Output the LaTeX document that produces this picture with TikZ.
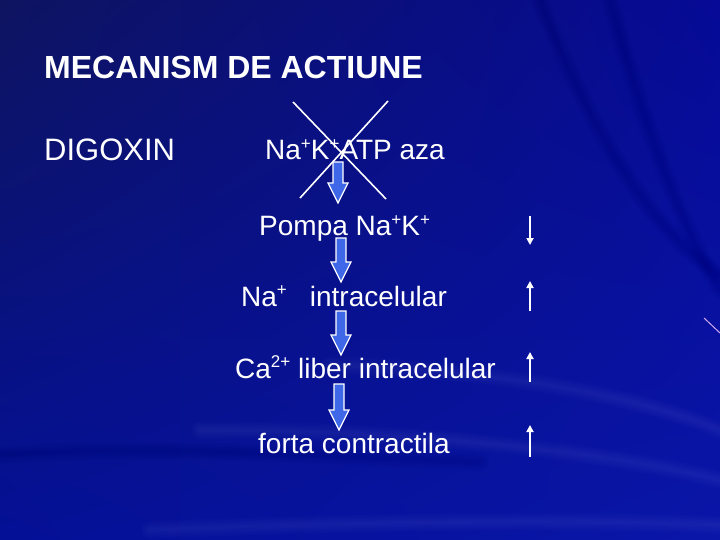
\documentclass[tikz,border=0pt]{standalone}
\usepackage{fontspec}
\setmainfont{Liberation Sans}
\usetikzlibrary{arrows.meta,shadings}
\definecolor{bgA}{RGB}{14,20,96}
\definecolor{bgB}{RGB}{6,10,150}
\definecolor{bgC}{RGB}{4,16,150}
\definecolor{bgD}{RGB}{10,22,168}
\definecolor{arrfill}{RGB}{62,104,232}
\newcommand\sups[1]{\raisebox{0.36em}{\fontsize{17}{17}\selectfont #1}}
\newcommand\barrow[3]{\draw[barrowstyle] (#1-5,#2) -- (#1+5,#2) -- (#1+5,#3-20) -- (#1+10,#3-20) -- (#1,#3) -- (#1-10,#3-20) -- (#1-5,#3-20) -- cycle;}
\tikzset{
  txt/.style={text=white, inner sep=0pt, anchor=base west, font=\fontsize{28}{32}\selectfont},
  barrowstyle/.style={fill=arrfill, draw=white, line width=1.3pt, line join=miter},
  smallarr/.style={white, line width=1.8pt, -{Triangle[length=7pt,width=7pt]}},
  crossline/.style={white, line width=1.6pt},
  softstreak/.style={line cap=round, opacity=0.012, line width=4pt},
}
\newcommand\softpath[2]{%
  \foreach \w in {3,6,9,12,15,18} {\draw[softstreak, #1, line width=\w pt] #2;}}
\begin{document}
\begin{tikzpicture}[x=1pt,y=-1pt]
\useasboundingbox (0,0) rectangle (720,540);
\shade[upper left=bgA, upper right=bgB, lower left=bgC, lower right=bgD] (0,0) rectangle (720,540);
% background streaks (soft)
\softpath{white}{(720,430) .. controls (620,390) and (480,370) .. (330,365)}
\softpath{white}{(720,480) .. controls (600,450) and (400,430) .. (200,430)}
\softpath{black}{(610,0) .. controls (650,150) and (690,240) .. (720,290)}
\softpath{black}{(540,0) .. controls (590,130) and (650,230) .. (720,275)}
\softpath{black}{(0,455) .. controls (150,445) and (300,455) .. (480,462)}
\softpath{white}{(720,525) .. controls (600,520) and (400,520) .. (150,530)}
\draw[line width=1pt, color={rgb,255:red,210;green,170;blue,240}] (704,318) -- (720,333);

% texts
\node[txt, font=\bfseries\fontsize{32}{36}\selectfont] (title) at (44,79) {MECANISM DE ACTIUNE};
\node[txt, font=\fontsize{31}{36}\selectfont] (digoxin) at (44,161) {DIGOXIN};
\node[txt] (atpaza) at (265,160) {Na\sups{+}K\sups{+}ATP aza};
\node[txt] (pompa) at (259,236) {Pompa Na\sups{+}K\sups{+}};
\node[txt] (naintra) at (241,306) {Na\sups{+}\hspace{23pt}intracelular};
\node[txt] (caintra) at (235,378) {Ca\sups{2+} liber intracelular};
\node[txt] (forta) at (258,453) {forta contractila};

% cross over the enzyme
\draw[crossline] (293,102) -- (386,199);
\draw[crossline] (388,101) -- (300,198);

% block arrows
\barrow{338}{162}{203}
\barrow{341}{238}{282}
\barrow{341}{311}{355}
\barrow{339}{384}{430}

% small arrows
\draw[smallarr] (530,216) -- (530,245);
\draw[smallarr] (530,311) -- (530,281);
\draw[smallarr] (530,382) -- (530,352);
\draw[smallarr] (530,457) -- (530,425);
\end{tikzpicture}
\end{document}
